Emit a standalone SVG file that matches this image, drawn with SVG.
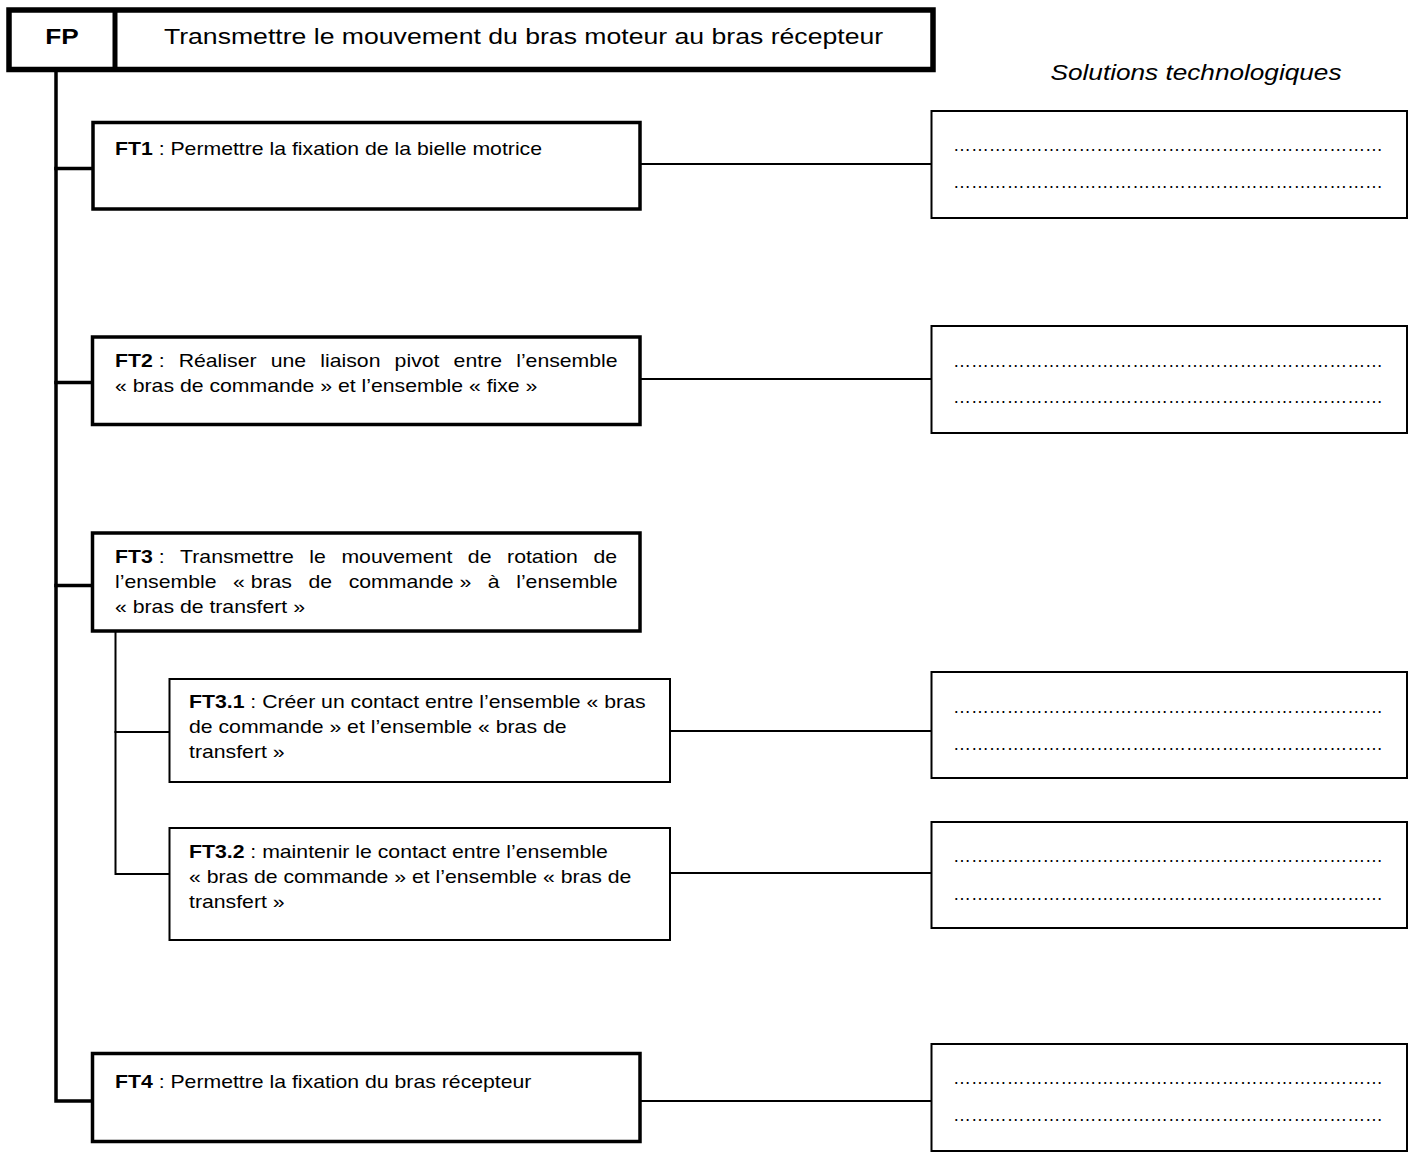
<svg xmlns="http://www.w3.org/2000/svg" width="1420" height="1154" viewBox="0 0 1420 1154">
<style>
.bg{fill:#fff}
.head{fill:#fff;stroke:#000;stroke-width:5.5}
.thick{fill:#fff;stroke:#000;stroke-width:3.5}
.thin{fill:#fff;stroke:#000;stroke-width:2}
.c{fill:none;stroke:#000;stroke-linecap:square}
.c1{stroke-width:3.5}
.c2{stroke-width:2}
text{font-family:"Liberation Sans",Arial,sans-serif;fill:#000}
.t{font-size:18px}
.big{font-size:22px}
.dots{font-size:18px}
</style>
<rect class="bg" x="0" y="0" width="1420" height="1154"/>

<g id="connectors">
  <path class="c c1" d="M56 72 V1101 H92"/>
  <path class="c c1" d="M56 168.5 H92"/>
  <path class="c c1" d="M56 382.5 H92"/>
  <path class="c c1" d="M56 585.5 H92"/>
  <path class="c c2" d="M115.5 632 V874 H169"/>
  <path class="c c2" d="M115.5 732 H169"/>
  <path class="c c2" d="M640 164 H931"/>
  <path class="c c2" d="M640 379 H931"/>
  <path class="c c2" d="M670 731 H931"/>
  <path class="c c2" d="M670 873 H931"/>
  <path class="c c2" d="M640 1101 H931"/>
</g>

<g id="FP">
  <rect class="head" x="9" y="10" width="924" height="59.5"/>
  <line x1="115" y1="10" x2="115" y2="69.5" stroke="#000" stroke-width="5"/>
  <text class="big" font-weight="bold" text-anchor="middle" transform="matrix(1.19 0 0 1 62 43.5)">FP</text>
  <text class="big" text-anchor="middle" transform="matrix(1.21 0 0 1 523.5 43.5)">Transmettre le mouvement du bras moteur au bras récepteur</text>
</g>

<g id="solutions-title">
  <text class="big" font-style="italic" text-anchor="middle" transform="matrix(1.19 0 0 1 1196 80)">Solutions technologiques</text>
</g>

<g id="FT1">
  <rect class="thick" x="93" y="122.5" width="547" height="86.5"/>
  <text class="t" transform="matrix(1.18 0 0 1 115 155)"><tspan font-weight="bold">FT1</tspan> : Permettre la fixation de la bielle motrice</text>
</g>

<g id="FT2">
  <rect class="thick" x="92.5" y="337" width="547.5" height="87.5"/>
  <text class="t" transform="matrix(1.18 0 0 1 115 366.5)"><tspan font-weight="bold">FT2</tspan>&#160;: <tspan dx="7">Réaliser</tspan> <tspan dx="7">une</tspan> <tspan dx="7">liaison</tspan> <tspan dx="7">pivot</tspan> <tspan dx="7">entre</tspan> <tspan dx="7">l’ensemble</tspan></text>
  <text class="t" transform="matrix(1.18 0 0 1 115 392)">«&#160;bras de commande&#160;» et l’ensemble «&#160;fixe&#160;»</text>
</g>

<g id="FT3">
  <rect class="thick" x="92.5" y="533" width="547.5" height="98"/>
  <text class="t" transform="matrix(1.18 0 0 1 115 562.5)"><tspan font-weight="bold">FT3</tspan>&#160;: <tspan dx="8.2">Transmettre</tspan> <tspan dx="8.2">le</tspan> <tspan dx="8.2">mouvement</tspan> <tspan dx="8.2">de</tspan> <tspan dx="8.2">rotation</tspan> <tspan dx="8.2">de</tspan></text>
  <text class="t" transform="matrix(1.18 0 0 1 115 588)">l’ensemble <tspan dx="9">«&#160;bras</tspan> <tspan dx="9">de</tspan> <tspan dx="9">commande&#160;»</tspan> <tspan dx="9">à</tspan> <tspan dx="9">l’ensemble</tspan></text>
  <text class="t" transform="matrix(1.18 0 0 1 115 613)">«&#160;bras de transfert&#160;»</text>
</g>

<g id="FT3.1">
  <rect class="thin" x="169.5" y="679" width="500.5" height="103"/>
  <text class="t" transform="matrix(1.18 0 0 1 189 708)"><tspan font-weight="bold">FT3.1</tspan> : Créer un contact entre l’ensemble «&#160;bras</text>
  <text class="t" transform="matrix(1.18 0 0 1 189 733)">de commande&#160;» et l’ensemble «&#160;bras de</text>
  <text class="t" transform="matrix(1.18 0 0 1 189 758)">transfert&#160;»</text>
</g>

<g id="FT3.2">
  <rect class="thin" x="169.5" y="828" width="500.5" height="112"/>
  <text class="t" transform="matrix(1.18 0 0 1 189 857.5)"><tspan font-weight="bold">FT3.2</tspan> : maintenir le contact entre l’ensemble</text>
  <text class="t" transform="matrix(1.18 0 0 1 189 882.5)">«&#160;bras de commande&#160;» et l’ensemble «&#160;bras de</text>
  <text class="t" transform="matrix(1.18 0 0 1 189 907.5)">transfert&#160;»</text>
</g>

<g id="FT4">
  <rect class="thick" x="92.5" y="1053.5" width="547.5" height="88"/>
  <text class="t" transform="matrix(1.18 0 0 1 115 1087.5)"><tspan font-weight="bold">FT4</tspan> : Permettre la fixation du bras récepteur</text>
</g>

<g id="S1">
  <rect class="thin" x="931.5" y="111" width="475.5" height="107"/>
  <text class="dots" x="953" y="151" textLength="430" lengthAdjust="spacingAndGlyphs">&#8230;&#8230;&#8230;&#8230;&#8230;&#8230;&#8230;&#8230;&#8230;&#8230;&#8230;&#8230;&#8230;&#8230;&#8230;&#8230;&#8230;&#8230;&#8230;&#8230;&#8230;&#8230;&#8230;&#8230;</text>
  <text class="dots" x="953" y="188" textLength="430" lengthAdjust="spacingAndGlyphs">&#8230;&#8230;&#8230;&#8230;&#8230;&#8230;&#8230;&#8230;&#8230;&#8230;&#8230;&#8230;&#8230;&#8230;&#8230;&#8230;&#8230;&#8230;&#8230;&#8230;&#8230;&#8230;&#8230;&#8230;</text>
</g>
<g id="S2">
  <rect class="thin" x="931.5" y="326" width="475.5" height="107"/>
  <text class="dots" x="953" y="367" textLength="430" lengthAdjust="spacingAndGlyphs">&#8230;&#8230;&#8230;&#8230;&#8230;&#8230;&#8230;&#8230;&#8230;&#8230;&#8230;&#8230;&#8230;&#8230;&#8230;&#8230;&#8230;&#8230;&#8230;&#8230;&#8230;&#8230;&#8230;&#8230;</text>
  <text class="dots" x="953" y="403" textLength="430" lengthAdjust="spacingAndGlyphs">&#8230;&#8230;&#8230;&#8230;&#8230;&#8230;&#8230;&#8230;&#8230;&#8230;&#8230;&#8230;&#8230;&#8230;&#8230;&#8230;&#8230;&#8230;&#8230;&#8230;&#8230;&#8230;&#8230;&#8230;</text>
</g>
<g id="S3">
  <rect class="thin" x="931.5" y="672" width="475.5" height="106"/>
  <text class="dots" x="953" y="713" textLength="430" lengthAdjust="spacingAndGlyphs">&#8230;&#8230;&#8230;&#8230;&#8230;&#8230;&#8230;&#8230;&#8230;&#8230;&#8230;&#8230;&#8230;&#8230;&#8230;&#8230;&#8230;&#8230;&#8230;&#8230;&#8230;&#8230;&#8230;&#8230;</text>
  <text class="dots" x="953" y="750" textLength="430" lengthAdjust="spacingAndGlyphs">&#8230;&#8230;&#8230;&#8230;&#8230;&#8230;&#8230;&#8230;&#8230;&#8230;&#8230;&#8230;&#8230;&#8230;&#8230;&#8230;&#8230;&#8230;&#8230;&#8230;&#8230;&#8230;&#8230;&#8230;</text>
</g>
<g id="S4">
  <rect class="thin" x="931.5" y="822" width="475.5" height="106"/>
  <text class="dots" x="953" y="862" textLength="430" lengthAdjust="spacingAndGlyphs">&#8230;&#8230;&#8230;&#8230;&#8230;&#8230;&#8230;&#8230;&#8230;&#8230;&#8230;&#8230;&#8230;&#8230;&#8230;&#8230;&#8230;&#8230;&#8230;&#8230;&#8230;&#8230;&#8230;&#8230;</text>
  <text class="dots" x="953" y="900" textLength="430" lengthAdjust="spacingAndGlyphs">&#8230;&#8230;&#8230;&#8230;&#8230;&#8230;&#8230;&#8230;&#8230;&#8230;&#8230;&#8230;&#8230;&#8230;&#8230;&#8230;&#8230;&#8230;&#8230;&#8230;&#8230;&#8230;&#8230;&#8230;</text>
</g>
<g id="S5">
  <rect class="thin" x="931.5" y="1044" width="475.5" height="107"/>
  <text class="dots" x="953" y="1084" textLength="430" lengthAdjust="spacingAndGlyphs">&#8230;&#8230;&#8230;&#8230;&#8230;&#8230;&#8230;&#8230;&#8230;&#8230;&#8230;&#8230;&#8230;&#8230;&#8230;&#8230;&#8230;&#8230;&#8230;&#8230;&#8230;&#8230;&#8230;&#8230;</text>
  <text class="dots" x="953" y="1121" textLength="430" lengthAdjust="spacingAndGlyphs">&#8230;&#8230;&#8230;&#8230;&#8230;&#8230;&#8230;&#8230;&#8230;&#8230;&#8230;&#8230;&#8230;&#8230;&#8230;&#8230;&#8230;&#8230;&#8230;&#8230;&#8230;&#8230;&#8230;&#8230;</text>
</g>
</svg>
